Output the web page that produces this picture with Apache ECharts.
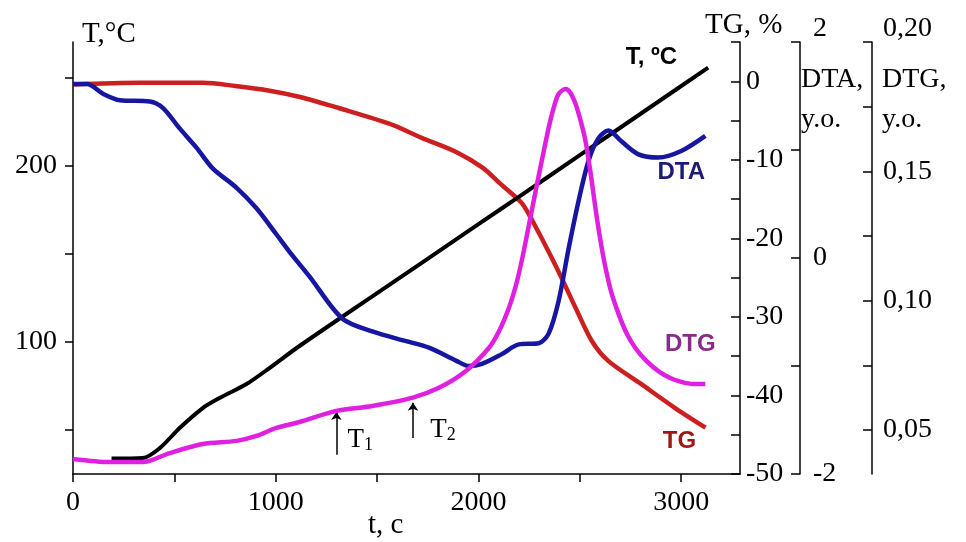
<!DOCTYPE html>
<html>
<head>
<meta charset="utf-8">
<script src="https://cdn.jsdelivr.net/npm/echarts/dist/echarts.min.js"></script>
<style>html,body{margin:0;padding:0;background:#fff}#c{width:966px;height:542px}</style>
</head>
<body>
<div id="c"></div>
<script>
// ---- data ----
const tempTime = [190, 344, 428, 526, 640, 723, 856, 969, 1117, 1500, 1722, 2000, 2199, 2500, 2800, 3133];
const tempVal  = [33.8, 34.1, 39.7, 51.1, 62.4, 68.1, 76.0, 85.1, 97.6, 127.6, 144.9, 166.7, 182.2, 205.8, 229.3, 255.5];

const tgTime = [0, 330, 640, 800, 970, 1120, 1310, 1560, 1720, 1890, 2020, 2110, 2210, 2250, 2310, 2400, 2480, 2560, 2640, 2800, 2970, 3120];
const tgVal  = [-0.4, -0.2, -0.2, -0.6, -1.2, -2.0, -3.4, -5.4, -7.2, -9.0, -11.0, -13.1, -15.4, -17.0, -19.9, -24.5, -28.9, -33.1, -35.6, -38.5, -41.6, -44.1];

const dtaTime = [0, 69, 148, 231, 379, 443, 526, 610, 689, 807, 905, 1003, 1067, 1166, 1328, 1476, 1643, 1756, 1889, 1953, 2017, 2115, 2199, 2297, 2346, 2395, 2445, 2494, 2543, 2592, 2641, 2705, 2789, 2887, 3000, 3119];
const dtaVal  = [1.61, 1.61, 1.52, 1.46, 1.45, 1.39, 1.20, 1.02, 0.83, 0.65, 0.46, 0.22, 0.06, -0.17, -0.56, -0.68, -0.77, -0.83, -0.95, -1.0, -0.98, -0.89, -0.80, -0.79, -0.70, -0.40, 0.09, 0.53, 0.90, 1.11, 1.18, 1.08, 0.96, 0.93, 0.99, 1.13];

const dtgTime = [0, 182, 344, 477, 640, 807, 905, 1003, 1117, 1299, 1476, 1672, 1805, 1938, 2051, 2100, 2150, 2184, 2213, 2248, 2282, 2312, 2346, 2371, 2395, 2430, 2454, 2479, 2504, 2528, 2553, 2577, 2602, 2627, 2656, 2691, 2730, 2774, 2828, 2887, 2946, 3000, 3060, 3119];
const dtgVal  = [0.0388, 0.0376, 0.0376, 0.0411, 0.0446, 0.0458, 0.0477, 0.0508, 0.0531, 0.0574, 0.0593, 0.0624, 0.0663, 0.0728, 0.0817, 0.088, 0.0972, 0.1057, 0.1153, 0.1289, 0.1424, 0.1540, 0.1668, 0.1745, 0.1799, 0.1818, 0.1803, 0.1760, 0.1695, 0.1617, 0.1494, 0.1358, 0.1231, 0.1126, 0.1030, 0.0949, 0.0875, 0.0817, 0.0767, 0.0728, 0.0701, 0.0686, 0.0678, 0.0678];

// axis ticks / labels
const tempTicks = [50, 100, 150, 200, 250];
const tempLabels = [100, 200];
const dtgTicks = [0.05, 0.075, 0.1, 0.125, 0.15, 0.175, 0.2];
const dtgLabels = [0.05, 0.1, 0.15, 0.2];

// annotation markers (T1, T2)
const markerTime = [1299, 1677];
const markerLow  = [0.0404, 0.0469];
const markerHigh = [0.0570, 0.0605];

const zip = (a, b) => a.map((v, i) => [v, b[i]]);
const SERIF = '"Liberation Serif","Times New Roman",serif';
const SANS = '"Liberation Sans",Arial,sans-serif';
const axisLine = {show: true, onZero: false, lineStyle: {color: '#000', width: 1.5}};
const tickStyle = {color: '#000', width: 1.5};
const lblFont = {color: '#000', fontFamily: SERIF, fontSize: 28};

function tag(text, coord, color) {
  return {
    coord: coord, symbol: 'rect', symbolSize: 1, itemStyle: {color: 'rgba(0,0,0,0)'},
    label: {show: true, position: 'inside', formatter: text, color: color,
            fontFamily: SANS, fontWeight: 'bold', fontSize: 24}
  };
}
function subTag(main, sub, coord) {
  return {
    coord: coord, symbol: 'rect', symbolSize: 1, itemStyle: {color: 'rgba(0,0,0,0)'},
    label: {show: true, position: 'inside', formatter: '{m|' + main + '}{s|' + sub + '}',
      rich: {m: {fontFamily: SERIF, fontSize: 27, color: '#000'},
             s: {fontFamily: SERIF, fontSize: 18, color: '#000', padding: [10, 0, 0, 0]}}}
  };
}

const chart = echarts.init(document.getElementById('c'));
chart.setOption({
  animation: false,
  backgroundColor: '#fff',
  grid: {left: 73, right: 226, top: 42, bottom: 68, containLabel: false},
  xAxis: {
    type: 'value', min: 0, max: 3290, interval: 500,
    axisLine: axisLine, splitLine: {show: false},
    axisTick: {show: true, length: 8, lineStyle: tickStyle},
    axisLabel: Object.assign({margin: 15, formatter: v => (v % 1000 === 0 ? String(v) : ''), showMaxLabel: false}, lblFont)
  },
  yAxis: [
    { // T, left
      type: 'value', min: 25, max: 270, position: 'left',
      axisLine: axisLine, splitLine: {show: false},
      axisTick: {show: true, length: 8, lineStyle: tickStyle, customValues: tempTicks},
      axisLabel: Object.assign({margin: 16, customValues: tempLabels}, lblFont)
    },
    { // TG
      type: 'value', min: -50, max: 5, interval: 5, position: 'right', offset: 0,
      axisLine: axisLine, splitLine: {show: false},
      axisTick: {show: true, inside: true, length: 9, lineStyle: tickStyle},
      axisLabel: Object.assign({margin: 6, formatter: v => (v % 10 === 0 ? String(v) : '')}, lblFont)
    },
    { // DTA
      type: 'value', min: -2, max: 2, interval: 1, position: 'right', offset: 60,
      axisLine: axisLine, splitLine: {show: false},
      axisTick: {show: true, inside: true, length: 9, lineStyle: tickStyle},
      axisLabel: Object.assign({margin: 13,
        formatter: v => (v === 2 ? '{up|2}' : (v === 0 || v === -2 ? String(v) : '')),
        rich: {up: {fontFamily: SERIF, fontSize: 28, color: '#000', padding: [0, 0, 26, 0]}}}, lblFont)
    },
    { // DTG
      type: 'value', min: 0.033, max: 0.20, position: 'right', offset: 132,
      axisLine: axisLine, splitLine: {show: false},
      axisTick: {show: true, inside: true, length: 9, lineStyle: tickStyle, customValues: dtgTicks},
      axisLabel: Object.assign({margin: 11, customValues: dtgLabels,
        formatter: v => (Math.abs(v - 0.2) < 1e-9 ? '{up|0,20}' : v.toFixed(2).replace('.', ',')),
        rich: {up: {fontFamily: SERIF, fontSize: 28, color: '#000', padding: [0, 0, 26, 0]}}}, lblFont)
    }
  ],
  graphic: [
    {type: 'text', left: 82, top: 20, style: {text: 'T,°C', fontFamily: SERIF, fontSize: 29, fill: '#000'}},
    {type: 'text', left: 705, top: 11, style: {text: 'TG, %', fontFamily: SERIF, fontSize: 29, fill: '#000'}},
    {type: 'text', left: 801, top: 60, style: {text: 'DTA,\ny.o.', fontFamily: SERIF, fontSize: 28, lineHeight: 40, fill: '#000'}},
    {type: 'text', left: 882, top: 60, style: {text: 'DTG,\ny.o.', fontFamily: SERIF, fontSize: 28, lineHeight: 40, fill: '#000'}},
    {type: 'text', left: 368, top: 511, style: {text: 't, c', fontFamily: SERIF, fontSize: 29, fill: '#000'}}
  ],
  series: [
    {
      name: 'T', type: 'line', yAxisIndex: 0, data: zip(tempTime, tempVal), smooth: 0.3,
      showSymbol: false, lineStyle: {color: '#000', width: 4}, z: 3,
      markPoint: {data: [tag('T, ºC', [2853, 261], '#000')]}
    },
    {
      name: 'TG', type: 'line', yAxisIndex: 1, data: zip(tgTime, tgVal), smooth: 0.3,
      showSymbol: false, lineStyle: {color: '#cc1f1f', width: 4.5}, z: 2,
      markPoint: {data: [tag('TG', [2991, -45.9], '#9e1515')]}
    },
    {
      name: 'DTA', type: 'line', yAxisIndex: 2, data: zip(dtaTime, dtaVal), smooth: 0.3,
      showSymbol: false, lineStyle: {color: '#1616a0', width: 4.5}, z: 4,
      markPoint: {data: [tag('DTA', [3000, 0.79], '#1c1c78')]}
    },
    {
      name: 'DTG', type: 'line', yAxisIndex: 3, data: zip(dtgTime, dtgVal), smooth: 0.3,
      showSymbol: false, lineStyle: {color: '#e020e0', width: 4.5}, z: 5,
      markPoint: {data: [
        tag('DTG', [3045, 0.083], '#8a2a8a'),
        subTag('T', '1', [1417, 0.0462]),
        subTag('T', '2', [1825, 0.0500])
      ]},
      markLine: {
        silent: true, symbol: ['none', 'arrow'], symbolSize: 8,
        lineStyle: {color: '#000', width: 1.5, type: 'solid'}, label: {show: false},
        data: markerTime.map((t, i) => [{coord: [t, markerLow[i]]}, {coord: [t, markerHigh[i]]}])
      }
    }
  ]
});
</script>
</body>
</html>
